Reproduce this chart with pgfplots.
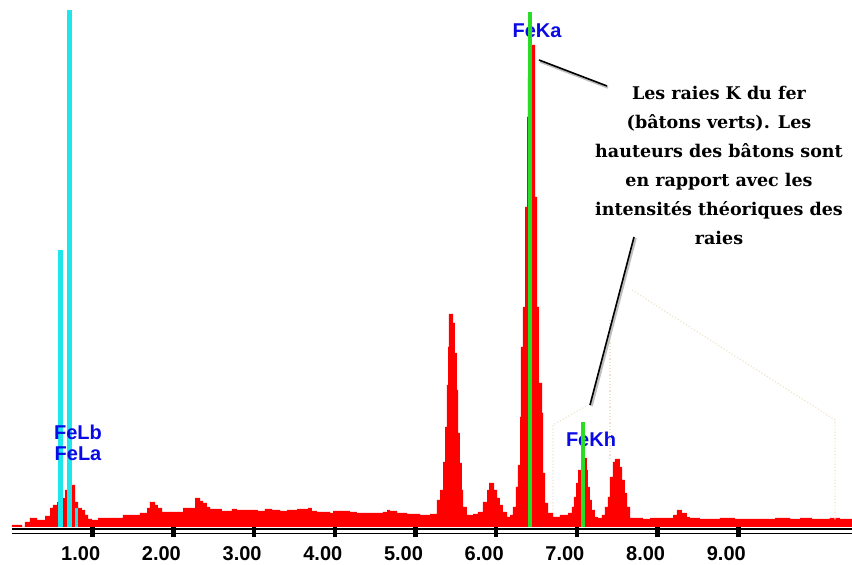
\documentclass[border=0pt]{standalone}
\usepackage{pgfplots}
\pgfplotsset{compat=1.18}
\usepackage{fontspec}
\setmainfont{Liberation Sans}
\newfontfamily\annotfont{DejaVu Serif}
\definecolor{specred}{RGB}{255,0,0}
\definecolor{lcyan}{RGB}{30,230,235}
\definecolor{lgreen}{RGB}{40,220,40}
\definecolor{lblue}{RGB}{10,10,230}
\definecolor{beige}{RGB}{238,228,205}
\begin{document}
\begin{tikzpicture}
\path[use as bounding box] (0,0) rectangle (852pt,565pt);
\begin{axis}[
  at={(12pt,33pt)}, anchor=south west,
  scale only axis, width=840pt, height=532pt,
  xmin=0, xmax=10.409, ymin=-5, ymax=527,
  axis x line=bottom, axis y line=none,
  x axis line style={draw=none},
  ytick=\empty,
  xtick={1,2,...,9},
  xticklabels={1.00,2.00,3.00,4.00,5.00,6.00,7.00,8.00,9.00},
  tick align=center, major tick length=10pt,
  tick style={line width=4.5pt, black},
  xticklabel style={font=\fontsize{20}{20}\selectfont\bfseries, anchor=center, xshift=-12pt, yshift=-17pt},
  clip=false,
]
% EDS spectrum (counts per channel)
\addplot[const plot, fill=specred, draw=none, mark=none] coordinates {
(0,2) (0.124,0) (0.161,5) (0.223,9) (0.310,7) (0.409,11) (0.471,19) (0.508,22) (0.558,25) (0.595,27) (0.632,29) (0.657,37) (0.682,40) (0.743,42) (0.781,25) (0.818,19) (0.867,17) (0.905,12) (0.942,8) (0.991,7) (1.066,9) (1.375,12) (1.586,14) (1.673,19) (1.710,25) (1.772,22) (1.809,19) (1.859,15) (2.119,19) (2.268,29) (2.330,26) (2.367,24) (2.416,20) (2.454,18) (2.602,16) (2.726,18) (2.788,17) (3.048,16) (3.135,18) (3.222,17) (3.321,16) (3.408,17) (3.532,18) (3.668,19) (3.717,16) (3.779,15) (3.941,14) (3.978,16) (4.188,15) (4.275,14) (4.597,15) (4.647,17) (4.684,16) (4.771,14) (4.895,13) (5.056,12) (5.180,13) (5.266,27) (5.304,37) (5.341,65) (5.366,100) (5.390,142) (5.403,180) (5.415,213) (5.465,204) (5.489,174) (5.514,137) (5.527,94) (5.551,64) (5.576,37) (5.589,20) (5.638,12) (5.713,13) (5.774,15) (5.836,25) (5.886,37) (5.911,44) (5.973,37) (6.010,29) (6.047,22) (6.084,15) (6.134,10) (6.171,12) (6.208,20) (6.245,40) (6.270,62) (6.295,110) (6.307,180) (6.332,220) (6.357,320) (6.382,410) (6.394,450) (6.444,482) (6.481,330) (6.506,220) (6.530,144) (6.568,114) (6.580,54) (6.605,24) (6.642,14) (6.704,10) (6.790,12) (6.890,14) (6.939,20) (6.964,30) (6.989,44) (7.014,57) (7.051,65) (7.100,69) (7.125,57) (7.137,40) (7.162,27) (7.187,17) (7.224,10) (7.261,9) (7.311,12) (7.348,20) (7.385,30) (7.410,50) (7.447,65) (7.472,68) (7.534,60) (7.559,47) (7.596,34) (7.621,20) (7.658,9) (7.819,8) (7.906,9) (8.191,12) (8.240,17) (8.302,14) (8.364,10) (8.401,9) (8.525,8) (8.773,9) (8.959,8) (9.455,9) (9.641,8) (9.765,9) (9.913,8) (10.136,9) (10.260,8) (10.409,8)
} \closedcycle;
% Fe L lines (cyan)
\addplot[ycomb, lcyan, line width=5pt] coordinates {(0.601,277) (0.712,517)};
\addplot[ycomb, lcyan, line width=3pt] coordinates {(0.805,19)};
% labels
\node[font=\fontsize{20}{20}\selectfont\bfseries, text=lblue] at (axis cs:0.818,95) {FeLb};
\node[font=\fontsize{20}{20}\selectfont\bfseries, text=lblue] at (axis cs:0.818,73) {FeLa};
\node[font=\fontsize{20}{20}\selectfont\bfseries, text=lblue] at (axis cs:6.506,496) {FeKa};
\node[font=\fontsize{20}{20}\selectfont\bfseries, text=lblue] at (axis cs:7.175,88) {FeKh};
% Fe K lines (green)
\addplot[ycomb, lgreen, line width=4pt] coordinates {(6.419,515) (7.076,105)};
\end{axis}
\begin{scope}[x=1pt, y=-1pt, shift={(0pt,565pt)}]
  % double axis line
  \draw[black, line width=1.8pt] (12,529.2) -- (852,529.2);
  \draw[black, line width=1.8pt] (12,533.5) -- (852,533.5);
  % faint dotted callout outline
  \draw[beige, dotted, line width=1.2pt] (553,513) -- (553,425) -- (588,405);
  \draw[beige, dotted, line width=1.2pt] (632,290) -- (835,420) -- (835,520);
  \draw[beige, dotted, line width=1.2pt] (610,320) -- (610,460);
  % pointer lines
  \draw[gray!50, line width=2.6pt] (540,61.5) -- (608,87.5);
  \draw[black, line width=1.6pt] (539,60) -- (607,86);
  \draw[gray!50, line width=2.6pt] (591.5,406) -- (635.5,238);
  \draw[black, line width=1.6pt] (590,405) -- (634,237);
  % annotation text
  \node[font=\annotfont\bfseries\fontsize{17.5}{29}\selectfont, align=center, text=black] at (719,165)
    {Les raies K du fer\\(bâtons verts). Les\\hauteurs des bâtons sont\\en rapport avec les\\intensités théoriques des\\raies};
\end{scope}
\end{tikzpicture}
\end{document}
